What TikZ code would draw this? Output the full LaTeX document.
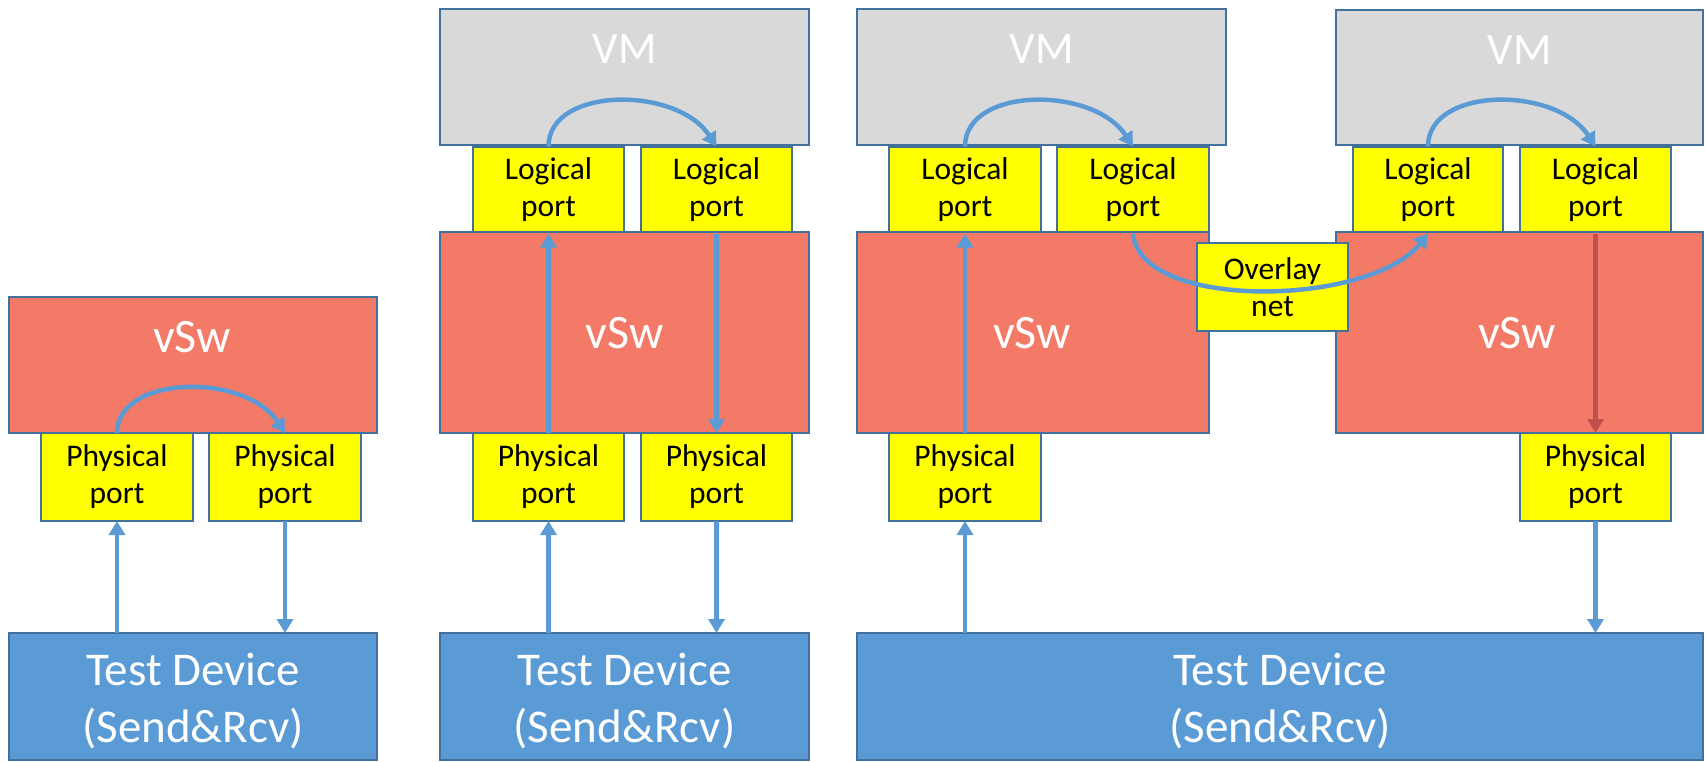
\documentclass[tikz,border=0pt]{standalone}
\usepackage{fontspec}
\setmainfont{Carlito}
\usetikzlibrary{arrows.meta}
\definecolor{border}{HTML}{41719C}
\definecolor{vmgray}{HTML}{D9D9D9}
\definecolor{swred}{HTML}{F47A68}
\definecolor{portyellow}{HTML}{FFFF00}
\definecolor{devblue}{HTML}{5B9BD5}
\definecolor{flowblue}{HTML}{5B9BD5}
\definecolor{flowred}{HTML}{C0504D}
\begin{document}
\begin{tikzpicture}[x=1pt, y=-1pt,
  box/.style={draw=border, line width=2pt, inner sep=0pt, outer sep=0pt, align=center},
  vmbox/.style={box, fill=vmgray},
  swbox/.style={box, fill=swred},
  portbox/.style={box, fill=portyellow, minimum height=88pt, font=\fontsize{31.5}{37}\selectfont},
  devbox/.style={box, fill=devblue, minimum height=127pt},
  devtext/.style={text=white, align=center, inner sep=0pt, font=\fontsize{47}{57}\selectfont},
  bigtext/.style={text=white, anchor=base, inner sep=0pt, font=\fontsize{45}{50}\selectfont},
  swtext/.style={bigtext, font=\fontsize{48}{52}\selectfont},
  flow/.style={draw=flowblue, line width=4.5pt, -{Triangle[length=14pt,width=16pt]}},
  flowdark/.style={flow, draw=flowred, fill=flowred}
]
\useasboundingbox (0,0) rectangle (1705,761);

% ---- setup 1: switch only ----
\node[swbox, minimum width=368pt, minimum height=136pt] (sw1) at (193,365) {};
\node[swtext] (sw1t) at (192,352) {vSw};
\node[portbox, minimum width=152pt] (pp1a) at (117,477) {Physical\\port};
\node[portbox, minimum width=152pt] (pp1b) at (285,477) {Physical\\port};
\node[devbox, minimum width=368pt] (td1) at (193,696.5) {};
\node[devtext] (td1t) at (193,701) {Test Device\\(Send\&Rcv)};

% ---- setup 2: switch and one VM ----
\node[vmbox, minimum width=369pt, minimum height=136pt] (vm2) at (624.5,77) {};
\node[bigtext] (vm2t) at (624.5,63) {VM};
\node[portbox, minimum width=151pt, minimum height=87pt] (lp2a) at (548.5,190) {Logical\\port};
\node[portbox, minimum width=151pt, minimum height=87pt] (lp2b) at (716.5,190) {Logical\\port};
\node[swbox, minimum width=369pt, minimum height=201pt] (sw2) at (624.5,332.5) {};
\node[swtext] (sw2t) at (624.5,348) {vSw};
\node[portbox, minimum width=151pt] (pp2a) at (548.5,477) {Physical\\port};
\node[portbox, minimum width=151pt] (pp2b) at (716.5,477) {Physical\\port};
\node[devbox, minimum width=369pt] (td2) at (624.5,696.5) {};
\node[devtext] (td2t) at (624.5,701) {Test Device\\(Send\&Rcv)};

% ---- setup 3: two hosts joined by an overlay ----
\node[vmbox, minimum width=369pt, minimum height=136pt] (vm3) at (1041.5,77) {};
\node[bigtext] (vm3t) at (1041.5,63) {VM};
\node[portbox, minimum width=152pt, minimum height=87pt] (lp3a) at (965,190) {Logical\\port};
\node[portbox, minimum width=152pt, minimum height=87pt] (lp3b) at (1133,190) {Logical\\port};
\node[swbox, minimum width=352pt, minimum height=201pt] (sw3) at (1033,332.5) {};
\node[swtext] (sw3t) at (1032,348) {vSw};
\node[portbox, minimum width=152pt] (pp3a) at (965,477) {Physical\\port};

\node[vmbox, minimum width=367pt, minimum height=135pt] (vm4) at (1519.5,77.5) {};
\node[bigtext] (vm4t) at (1519.5,64) {VM};
\node[portbox, minimum width=150pt, minimum height=87pt] (lp4a) at (1428,190) {Logical\\port};
\node[portbox, minimum width=151pt, minimum height=87pt] (lp4b) at (1595.5,190) {Logical\\port};
\node[swbox, minimum width=367pt, minimum height=201pt] (sw4) at (1519.5,332.5) {};
\node[swtext] (sw4t) at (1517,348) {vSw};
\node[portbox, minimum width=151pt] (pp4) at (1595.5,477) {Physical\\port};

\node[portbox, minimum width=151pt] (ovl) at (1272.5,287) {Overlay\\net};
\node[devbox, minimum width=846pt] (td3) at (1280,696.5) {};
\node[devtext] (td3t) at (1280,701) {Test Device\\(Send\&Rcv)};

% ---- traffic paths ----
\draw[flow] (td1.north -| pp1a) -- (pp1a.south);
\draw[flow] (pp1b.south) -- (pp1b.south |- td1.north);
\draw[flow] (pp1a.north) .. controls +(0,-58) and +(-40,-61) .. (pp1b.north);

\draw[flow] (td2.north -| pp2a) -- (pp2a.south);
\draw[flow] (pp2a.north) -- (lp2a.south);
\draw[flow] (lp2a.north) .. controls +(0,-60) and +(-40,-61) .. (lp2b.north);
\draw[flow] (lp2b.south) -- (pp2b.north);
\draw[flow] (pp2b.south) -- (pp2b.south |- td2.north);

\draw[flow] (td3.north -| pp3a) -- (pp3a.south);
\draw[flow] (pp3a.north) -- (lp3a.south);
\draw[flow] (lp3a.north) .. controls +(0,-60) and +(-40,-61) .. (lp3b.north);
\draw[flow] (lp3b.south) .. controls +(7,78) and +(-58,73) .. (lp4a.south);
\draw[flow] (lp4a.north) .. controls +(0,-60) and +(-40,-61) .. (lp4b.north);
\draw[flowdark] (lp4b.south) -- (pp4.north);
\draw[flow] (pp4.south) -- (pp4.south |- td3.north);
\end{tikzpicture}
\end{document}
